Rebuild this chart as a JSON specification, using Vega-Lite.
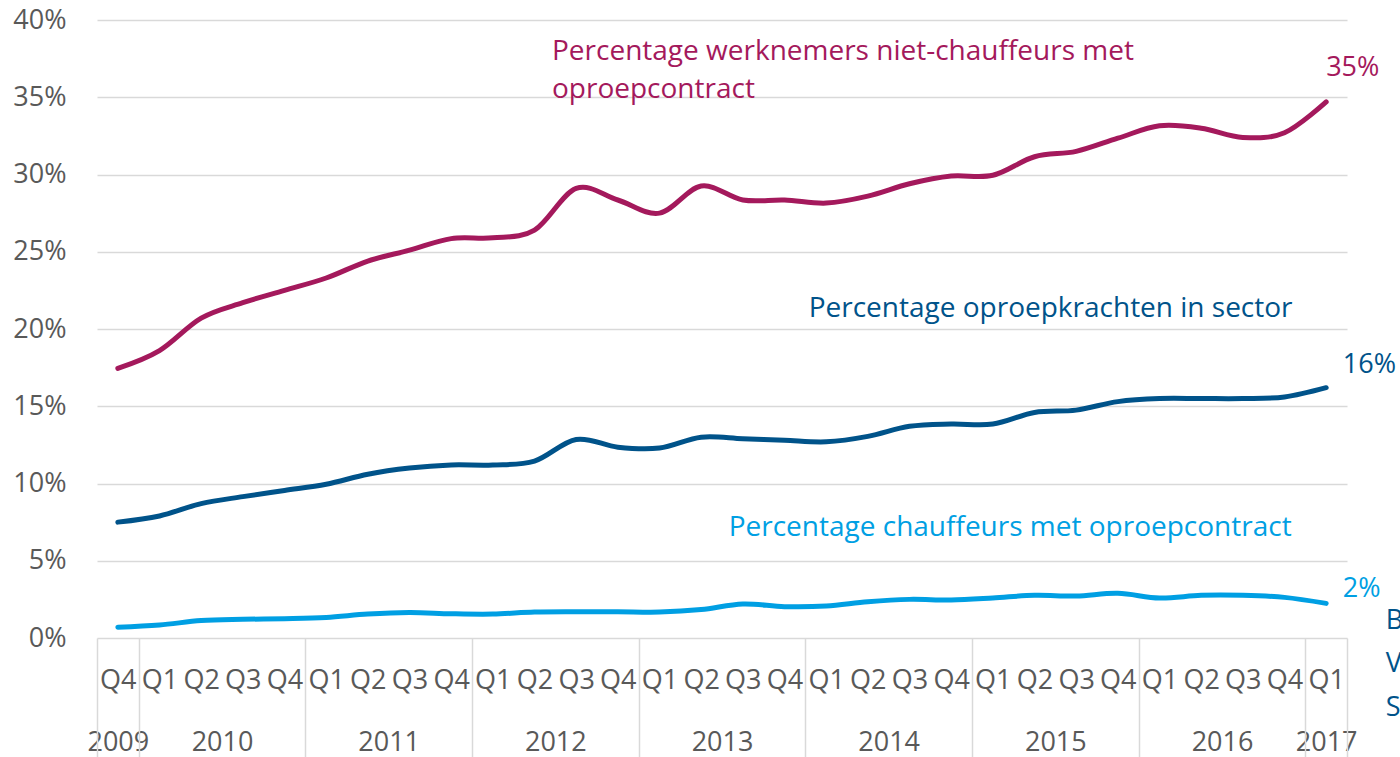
{
  "$schema": "https://vega.github.io/schema/vega-lite/v6.json",
  "autosize": {"type": "none"},
  "width": 1250,
  "height": 618,
  "padding": {"left": 97, "top": 20, "right": 53, "bottom": 119},
  "background": "white",
  "config": {
    "view": {"stroke": null},
    "font": "Open Sans",
    "text": {"font": "Open Sans"}
  },
  "datasets": {
    "series": [
      {"i": 0, "s": "niet-chauffeurs", "v": 17.45}, {"i": 1, "s": "niet-chauffeurs", "v": 18.6}, {"i": 2, "s": "niet-chauffeurs", "v": 20.7},
      {"i": 3, "s": "niet-chauffeurs", "v": 21.7}, {"i": 4, "s": "niet-chauffeurs", "v": 22.5}, {"i": 5, "s": "niet-chauffeurs", "v": 23.3},
      {"i": 6, "s": "niet-chauffeurs", "v": 24.4}, {"i": 7, "s": "niet-chauffeurs", "v": 25.1}, {"i": 8, "s": "niet-chauffeurs", "v": 25.85},
      {"i": 9, "s": "niet-chauffeurs", "v": 25.9}, {"i": 10, "s": "niet-chauffeurs", "v": 26.4}, {"i": 11, "s": "niet-chauffeurs", "v": 29.1},
      {"i": 12, "s": "niet-chauffeurs", "v": 28.35}, {"i": 13, "s": "niet-chauffeurs", "v": 27.5}, {"i": 14, "s": "niet-chauffeurs", "v": 29.25},
      {"i": 15, "s": "niet-chauffeurs", "v": 28.35}, {"i": 16, "s": "niet-chauffeurs", "v": 28.35}, {"i": 17, "s": "niet-chauffeurs", "v": 28.15},
      {"i": 18, "s": "niet-chauffeurs", "v": 28.6}, {"i": 19, "s": "niet-chauffeurs", "v": 29.4}, {"i": 20, "s": "niet-chauffeurs", "v": 29.9},
      {"i": 21, "s": "niet-chauffeurs", "v": 29.95}, {"i": 22, "s": "niet-chauffeurs", "v": 31.15}, {"i": 23, "s": "niet-chauffeurs", "v": 31.5},
      {"i": 24, "s": "niet-chauffeurs", "v": 32.35}, {"i": 25, "s": "niet-chauffeurs", "v": 33.15}, {"i": 26, "s": "niet-chauffeurs", "v": 33.0},
      {"i": 27, "s": "niet-chauffeurs", "v": 32.4}, {"i": 28, "s": "niet-chauffeurs", "v": 32.7}, {"i": 29, "s": "niet-chauffeurs", "v": 34.7},

      {"i": 0, "s": "oproepkrachten", "v": 7.5}, {"i": 1, "s": "oproepkrachten", "v": 7.9}, {"i": 2, "s": "oproepkrachten", "v": 8.7},
      {"i": 3, "s": "oproepkrachten", "v": 9.15}, {"i": 4, "s": "oproepkrachten", "v": 9.55}, {"i": 5, "s": "oproepkrachten", "v": 9.95},
      {"i": 6, "s": "oproepkrachten", "v": 10.6}, {"i": 7, "s": "oproepkrachten", "v": 11.0}, {"i": 8, "s": "oproepkrachten", "v": 11.2},
      {"i": 9, "s": "oproepkrachten", "v": 11.2}, {"i": 10, "s": "oproepkrachten", "v": 11.45}, {"i": 11, "s": "oproepkrachten", "v": 12.85},
      {"i": 12, "s": "oproepkrachten", "v": 12.35}, {"i": 13, "s": "oproepkrachten", "v": 12.3}, {"i": 14, "s": "oproepkrachten", "v": 13.0},
      {"i": 15, "s": "oproepkrachten", "v": 12.9}, {"i": 16, "s": "oproepkrachten", "v": 12.8}, {"i": 17, "s": "oproepkrachten", "v": 12.7},
      {"i": 18, "s": "oproepkrachten", "v": 13.05}, {"i": 19, "s": "oproepkrachten", "v": 13.7}, {"i": 20, "s": "oproepkrachten", "v": 13.85},
      {"i": 21, "s": "oproepkrachten", "v": 13.85}, {"i": 22, "s": "oproepkrachten", "v": 14.6}, {"i": 23, "s": "oproepkrachten", "v": 14.75},
      {"i": 24, "s": "oproepkrachten", "v": 15.3}, {"i": 25, "s": "oproepkrachten", "v": 15.5}, {"i": 26, "s": "oproepkrachten", "v": 15.5},
      {"i": 27, "s": "oproepkrachten", "v": 15.5}, {"i": 28, "s": "oproepkrachten", "v": 15.6}, {"i": 29, "s": "oproepkrachten", "v": 16.2},

      {"i": 0, "s": "chauffeurs", "v": 0.7}, {"i": 1, "s": "chauffeurs", "v": 0.84}, {"i": 2, "s": "chauffeurs", "v": 1.13},
      {"i": 3, "s": "chauffeurs", "v": 1.21}, {"i": 4, "s": "chauffeurs", "v": 1.25}, {"i": 5, "s": "chauffeurs", "v": 1.33},
      {"i": 6, "s": "chauffeurs", "v": 1.55}, {"i": 7, "s": "chauffeurs", "v": 1.65}, {"i": 8, "s": "chauffeurs", "v": 1.57},
      {"i": 9, "s": "chauffeurs", "v": 1.55}, {"i": 10, "s": "chauffeurs", "v": 1.68}, {"i": 11, "s": "chauffeurs", "v": 1.7},
      {"i": 12, "s": "chauffeurs", "v": 1.7}, {"i": 13, "s": "chauffeurs", "v": 1.68}, {"i": 14, "s": "chauffeurs", "v": 1.84},
      {"i": 15, "s": "chauffeurs", "v": 2.2}, {"i": 16, "s": "chauffeurs", "v": 2.03}, {"i": 17, "s": "chauffeurs", "v": 2.07},
      {"i": 18, "s": "chauffeurs", "v": 2.35}, {"i": 19, "s": "chauffeurs", "v": 2.5}, {"i": 20, "s": "chauffeurs", "v": 2.46},
      {"i": 21, "s": "chauffeurs", "v": 2.59}, {"i": 22, "s": "chauffeurs", "v": 2.76}, {"i": 23, "s": "chauffeurs", "v": 2.72},
      {"i": 24, "s": "chauffeurs", "v": 2.89}, {"i": 25, "s": "chauffeurs", "v": 2.59}, {"i": 26, "s": "chauffeurs", "v": 2.76},
      {"i": 27, "s": "chauffeurs", "v": 2.76}, {"i": 28, "s": "chauffeurs", "v": 2.63}, {"i": 29, "s": "chauffeurs", "v": 2.24}
    ],
    "annotations": [
      {"s": "niet-chauffeurs", "i": 10.42, "v": 37.93, "t": "Percentage werknemers niet-chauffeurs met\noproepcontract"},
      {"s": "oproepkrachten", "i": 16.58, "v": 21.3, "t": "Percentage oproepkrachten in sector"},
      {"s": "chauffeurs", "i": 14.66, "v": 7.12, "t": "Percentage chauffeurs met oproepcontract"}
    ],
    "endlabels": [
      {"s": "niet-chauffeurs", "i": 29.0, "v": 36.9, "t": "35%"},
      {"s": "oproepkrachten", "i": 29.4, "v": 17.67, "t": "16%"},
      {"s": "chauffeurs", "i": 29.4, "v": 3.17, "t": "2%"},
      {"s": "oproepkrachten", "i": 30.43, "v": 1.07, "t": "B"},
      {"s": "oproepkrachten", "i": 30.43, "v": -1.68, "t": "V"},
      {"s": "oproepkrachten", "i": 30.43, "v": -4.5, "t": "S"}
    ]
  },
  "layer": [
    {
      "data": {"name": "series"},
      "mark": {"type": "line", "interpolate": "cardinal", "strokeWidth": 5, "strokeCap": "round", "strokeJoin": "round", "clip": false},
      "encoding": {
        "x": {
          "field": "i", "type": "quantitative",
          "scale": {"domain": [-0.5, 29.5], "nice": false, "zero": false},
          "axis": {
            "orient": "bottom",
            "title": null, "grid": false, "domain": false, "ticks": false,
            "values": [0,1,2,3,4,5,6,7,8,9,10,11,12,13,14,15,16,17,18,19,20,21,22,23,24,25,26,27,28,29],
            "labelExpr": "'Q' + ((datum.value + 3) % 4 + 1)",
            "labelOverlap": false, "labelFlush": false, "labelBound": false,
            "labelFont": "Open Sans", "labelFontSize": 27, "labelColor": "#595959",
            "labelPadding": 29
          }
        },
        "y": {
          "field": "v", "type": "quantitative",
          "scale": {"domain": [0, 40], "nice": false, "zero": true},
          "axis": {
            "orient": "left",
            "title": null, "domain": false, "ticks": false,
            "values": [0, 5, 10, 15, 20, 25, 30, 35, 40],
            "labelExpr": "datum.value + '%'",
            "labelFont": "Open Sans", "labelFontSize": 27, "labelColor": "#595959",
            "labelPadding": 31,
            "grid": true, "gridColor": "#D9D9D9", "gridWidth": 1.5
          }
        },
        "color": {
          "field": "s", "type": "nominal", "legend": null,
          "scale": {"domain": ["niet-chauffeurs", "oproepkrachten", "chauffeurs"], "range": ["#A4195C", "#00538A", "#009FE3"]}
        },
        "detail": {"field": "s"}
      }
    },
    {
      "data": {"name": "annotations"},
      "mark": {"type": "text", "align": "left", "baseline": "middle", "fontSize": 28, "font": "Open Sans", "lineBreak": "\n", "lineHeight": 38, "clip": false},
      "encoding": {
        "x": {
          "field": "i", "type": "quantitative",
          "axis": {
            "orient": "bottom",
            "title": null, "grid": false, "domain": false, "ticks": false,
            "values": [0, 2.5, 6.5, 10.5, 14.5, 18.5, 22.5, 26.5, 29],
            "labelExpr": "datum.value == 0 ? '2009' : datum.value == 29 ? '2017' : '' + (2010 + (datum.value - 2.5) / 4)",
            "labelOverlap": false, "labelFlush": false, "labelBound": false,
            "labelFont": "Open Sans", "labelFontSize": 27, "labelColor": "#595959",
            "labelPadding": 91
          }
        },
        "y": {
          "field": "v", "type": "quantitative",
          "axis": {
            "orient": "left",
            "title": null, "domain": false, "ticks": false,
            "values": [0, 5, 10, 15, 20, 25, 30, 35, 40],
            "labelExpr": "datum.value + '%'",
            "labelFont": "Open Sans", "labelFontSize": 27, "labelColor": "#595959",
            "labelPadding": 31,
            "grid": true, "gridColor": "#D9D9D9", "gridWidth": 1.5
          }
        },
        "text": {"field": "t"},
        "color": {"field": "s", "type": "nominal", "legend": null}
      }
    },
    {
      "data": {"name": "endlabels"},
      "mark": {"type": "text", "align": "left", "baseline": "middle", "fontSize": 27, "font": "Open Sans", "clip": false},
      "encoding": {
        "x": {
          "field": "i", "type": "quantitative",
          "axis": {
            "orient": "bottom",
            "title": null, "grid": false, "domain": false, "labels": false,
            "values": [-0.5, 0.5, 4.5, 8.5, 12.5, 16.5, 20.5, 24.5, 28.5, 29.5],
            "ticks": true, "tickSize": 119, "tickColor": "#D9D9D9", "tickWidth": 1.5
          }
        },
        "y": {
          "field": "v", "type": "quantitative",
          "axis": {
            "orient": "left",
            "title": null, "domain": false, "ticks": false,
            "values": [0, 5, 10, 15, 20, 25, 30, 35, 40],
            "labelExpr": "datum.value + '%'",
            "labelFont": "Open Sans", "labelFontSize": 27, "labelColor": "#595959",
            "labelPadding": 31,
            "grid": true, "gridColor": "#D9D9D9", "gridWidth": 1.5
          }
        },
        "text": {"field": "t"},
        "color": {"field": "s", "type": "nominal", "legend": null}
      }
    }
  ],
  "resolve": {"axis": {"x": "independent", "y": "shared"}}
}
